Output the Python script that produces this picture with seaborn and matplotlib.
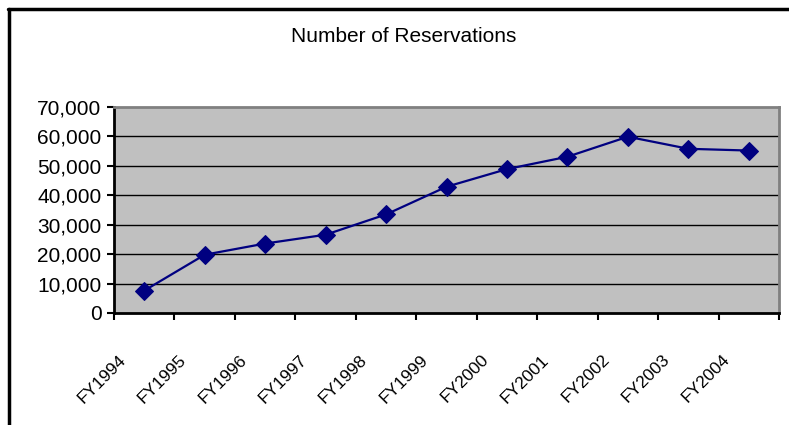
import matplotlib
matplotlib.use('Agg')
import matplotlib.pyplot as plt
import matplotlib.transforms as mtransforms
from matplotlib.lines import Line2D
from matplotlib.ticker import FuncFormatter
import seaborn as sns
import pandas as pd

# veri
years = ['FY1994', 'FY1995', 'FY1996', 'FY1997', 'FY1998', 'FY1999',
         'FY2000', 'FY2001', 'FY2002', 'FY2003', 'FY2004']
reservations = [7600, 19800, 23600, 26600, 33500, 42900,
                48900, 53100, 59900, 55800, 55200]

df = pd.DataFrame({'year': years, 'reservations': reservations})
df['pos'] = range(len(df))

sns.set_style('white')
plt.rcParams['font.family'] = ['Liberation Sans', 'DejaVu Sans']
plt.rcParams['text.color'] = 'black'
plt.rcParams['xtick.color'] = 'black'
plt.rcParams['ytick.color'] = 'black'

fig = plt.figure(figsize=(7.89, 4.25), dpi=100)
ax = fig.add_axes([114 / 789, 1 - 313 / 425, 665 / 789, 206 / 425])
ax.set_facecolor('#C0C0C0')

sns.lineplot(data=df, x='pos', y='reservations', ax=ax, color='#000080',
             linewidth=1.6, marker='D', markersize=9, markeredgecolor='#000080')

ax.set_xlim(-0.5, len(years) - 0.5)
ax.set_ylim(0, 70000)
ax.set_yticks(range(0, 70001, 10000))
ax.yaxis.set_major_formatter(FuncFormatter(lambda v, p: f'{int(v):,}'))
for v in range(10000, 70000, 10000):
    ax.axhline(v, color='black', linewidth=1, zorder=1)

ax.set_xticks(df['pos'])
ax.set_xticklabels(years, rotation=45, ha='right', va='center',
                   rotation_mode='anchor', fontsize=12.5)
ax.set_xticks([i - 0.5 for i in range(len(years) + 1)], minor=True)
ax.tick_params(bottom=True, left=True)
ax.tick_params(axis='x', which='major', length=0, pad=32)
ax.tick_params(axis='x', which='minor', bottom=True, length=5, width=1.5,
               color='black', direction='out')
ax.tick_params(axis='y', length=5, width=1.5, color='black', direction='out',
               labelsize=15, pad=4, labelcolor='black')
shift = mtransforms.ScaledTranslation(-0.21, 0, fig.dpi_scale_trans)
for lab in ax.get_xticklabels():
    lab.set_transform(lab.get_transform() + shift)
    lab.set_color('black')

ax.set_xlabel('')
ax.set_ylabel('')
for s in ['left', 'bottom']:
    ax.spines[s].set_color('black')
    ax.spines[s].set_linewidth(2)
for s in ['top', 'right']:
    ax.spines[s].set_color('#808080')
    ax.spines[s].set_linewidth(2)

fig.text(404 / 789, 1 - 37 / 425, 'Number of Reservations', ha='center',
         va='center', fontsize=15, color='black')

# çerçeve (sol ve üst kenar)
fig.add_artist(Line2D([8 / 789, 1], [1 - 8.5 / 425, 1 - 8.5 / 425],
                      transform=fig.transFigure, color='black', linewidth=2.5))
fig.add_artist(Line2D([8.5 / 789, 8.5 / 789], [0, 1 - 8.5 / 425],
                      transform=fig.transFigure, color='black', linewidth=2.5))

fig.savefig('out.png', dpi=100)
